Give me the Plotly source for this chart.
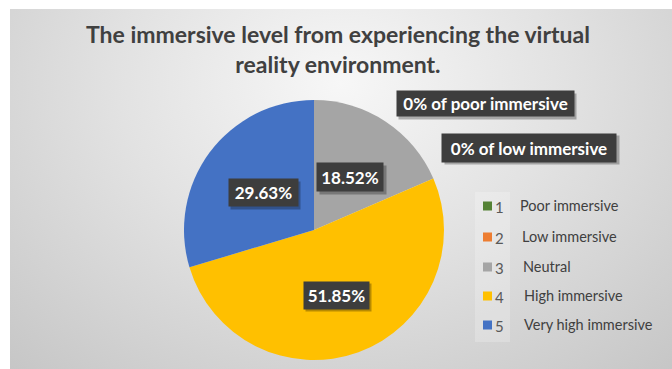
import base64
import plotly.graph_objects as go

# Survey results: share of respondents per immersion level
codes = ["1", "2", "3", "4", "5"]
levels = ["Poor immersive", "Low immersive", "Neutral", "High immersive", "Very high immersive"]
shares = [0.0, 0.0, 18.52, 51.85, 29.63]
colors = ["#548235", "#ED7D31", "#A5A5A5", "#FFC000", "#4472C4"]

W, H = 672, 369


def px(x):
    return x / W


def py(y):
    return 1 - y / H


fig = go.Figure()

fig.add_trace(go.Pie(
    labels=[f"{c} {l}" for c, l in zip(codes, levels)],
    values=shares,
    marker=dict(colors=colors, line=dict(width=0)),
    sort=False,
    direction="clockwise",
    rotation=0,
    textinfo="none",
    hoverinfo="label+percent",
    showlegend=False,
    domain=dict(x=[px(184), px(444)], y=[py(360), py(100)]),
))

# Radial grey backdrop
svg = (
    '<svg xmlns="http://www.w3.org/2000/svg" width="662" height="360" viewBox="0 0 662 360" preserveAspectRatio="none">'
    '<defs><radialGradient id="g" cx="0.5" cy="0.2" r="0.75" gradientTransform="translate(0.5 0.2) scale(1 1.4) translate(-0.5 -0.2)">'
    '<stop offset="0" stop-color="#F7F7F7"/>'
    '<stop offset="0.45" stop-color="#E2E2E2"/>'
    '<stop offset="1" stop-color="#C6C6C6"/>'
    '</radialGradient></defs>'
    '<rect width="662" height="360" fill="url(#g)"/></svg>'
)
bg_uri = "data:image/svg+xml;base64," + base64.b64encode(svg.encode()).decode()

fig.add_layout_image(dict(
    source=bg_uri, xref="paper", yref="paper",
    x=px(10), y=py(9), sizex=px(662), sizey=9 / H + 360 / H,
    xanchor="left", yanchor="top", sizing="stretch", layer="below",
))

annotations = []
shapes = []

# Title
annotations.append(dict(
    x=px(338), y=py(49), xref="paper", yref="paper", showarrow=False,
    text="<b>The immersive level from experiencing the virtual<br>reality environment.</b>",
    font=dict(family="Lato", size=23, color="#404040"),
    align="center", xanchor="center", yanchor="middle",
))


def dark_label(text, cx, cy, w, h, size=17):
    # soft drop shadow, then the dark box itself
    annotations.append(dict(
        x=px(cx + 2.5), y=py(cy + 2.5), xref="paper", yref="paper", showarrow=False,
        text="", width=w, height=h, bgcolor="rgba(0,0,0,0.28)",
        xanchor="center", yanchor="middle",
    ))
    annotations.append(dict(
        x=px(cx), y=py(cy), xref="paper", yref="paper", showarrow=False,
        text=f"<b>{text}</b>", width=w, height=h, bgcolor="#3D3D3D",
        font=dict(family="Lato", size=size, color="#FFFFFF"),
        xanchor="center", yanchor="middle", align="center", valign="middle",
    ))


# Slice value labels
label_boxes = {2: (350, 177, 64, 26), 3: (336, 295, 63, 25), 4: (263, 193, 67, 25)}
for i, (cx, cy, w, h) in label_boxes.items():
    dark_label(f"{shares[i]:.2f}%", cx, cy, w, h)

# Call-outs for the empty categories
dark_label(f"{shares[0]:.0f}% of {levels[0].lower()}", 485, 104, 175, 23)
dark_label(f"{shares[1]:.0f}% of {levels[1].lower()}", 529, 148, 172, 26)

# Legend
shapes.append(dict(
    type="rect", xref="paper", yref="paper",
    x0=px(475), x1=px(510), y0=py(342), y1=py(192),
    fillcolor="rgba(255,255,255,0.22)", line=dict(width=0), layer="below",
))
row_y = [206, 237, 267, 296, 325]
label_x = [518, 520, 521, 522, 522]
for code, lvl, col, ry, lx in zip(codes, levels, colors, row_y, label_x):
    shapes.append(dict(
        type="rect", xref="paper", yref="paper",
        x0=px(483), x1=px(492), y0=py(ry + 4.5), y1=py(ry - 4.5),
        fillcolor=col, line=dict(width=0),
    ))
    annotations.append(dict(
        x=px(493), y=py(ry + 1), xref="paper", yref="paper", showarrow=False,
        text=code, font=dict(family="Lato", size=15, color="#595959"),
        xanchor="left", yanchor="middle",
    ))
    annotations.append(dict(
        x=px(lx), y=py(ry - 1), xref="paper", yref="paper", showarrow=False,
        text=lvl, font=dict(family="Lato", size=14.5, color="#404040"),
        xanchor="left", yanchor="middle",
    ))

fig.update_layout(
    width=W, height=H,
    margin=dict(l=0, r=0, t=0, b=0),
    paper_bgcolor="#FFFFFF",
    plot_bgcolor="rgba(0,0,0,0)",
    annotations=annotations,
    shapes=shapes,
    showlegend=False,
)

fig.write_html("out.html")
